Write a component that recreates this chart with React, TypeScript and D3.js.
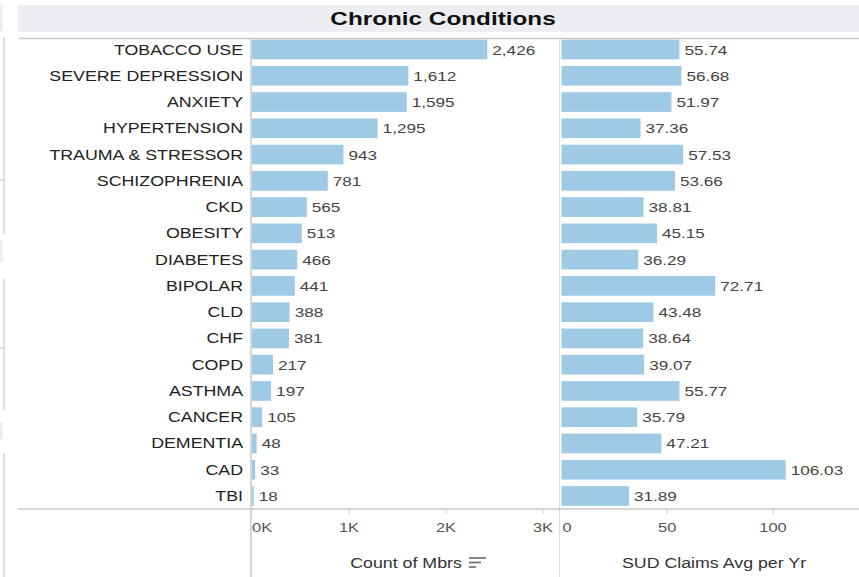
import React from "react";
import * as d3 from "d3";

const categories = [
  "TOBACCO USE", "SEVERE DEPRESSION", "ANXIETY", "HYPERTENSION", "TRAUMA & STRESSOR",
  "SCHIZOPHRENIA", "CKD", "OBESITY", "DIABETES", "BIPOLAR", "CLD", "CHF", "COPD",
  "ASTHMA", "CANCER", "DEMENTIA", "CAD", "TBI",
];
const countMbrs = [2426, 1612, 1595, 1295, 943, 781, 565, 513, 466, 441, 388, 381, 217, 197, 105, 48, 33, 18];
const sudClaims = [55.74, 56.68, 51.97, 37.36, 57.53, 53.66, 38.81, 45.15, 36.29, 72.71, 43.48, 38.64, 39.07, 55.77, 35.79, 47.21, 106.03, 31.89];
const countTicks = [0, 1000, 2000, 3000];
const sudTicks = [0, 50, 100];
const title = "Chronic Conditions";
const countTitle = "Count of Mbrs";
const sudTitle = "SUD Claims Avg per Yr";

const W = 859;
const H = 577;
const SX = 1.27;
const FONT = "'Liberation Sans', Arial, sans-serif";
const BAR = "#9ecae6";
const LINE = "#c9c9c9";

function SText(props: any) {
  const { x, y, anchor = "start", size = 13, fill = "#333", weight = "normal", sx = SX, children } = props;
  return (
    <text
      transform={`translate(${x},${y}) scale(${sx},1)`}
      textAnchor={anchor}
      fontSize={size}
      fill={fill}
      fontWeight={weight}
      fontFamily={FONT}
    >
      {children}
    </text>
  );
}

export default function App() {
  const y = d3.scaleBand<string>().domain(categories).range([36.5, 509]).paddingInner(0.25).paddingOuter(0.12);
  const xL = d3.scaleLinear().domain([0, 3000]).range([252, 543]);
  const xR = d3.scaleLinear().domain([0, 100]).range([561.5, 773]);
  const fmtC = d3.format(",");
  const fmtS = d3.format(".2f");
  const bh = y.bandwidth();

  return (
    <svg width={W} height={H} style={{ position: "absolute", left: 0, top: 0, display: "block", background: "#fff" }}>
      {/* left edge fragments of neighbouring panels */}
      <rect x={0} y={5} width={3} height={26} fill="#eceef1" />
      <line x1={4} x2={4} y1={37} y2={234} stroke={LINE} strokeWidth={1.2} />
      <line x1={0} x2={4} y1={180} y2={180} stroke={LINE} />
      <rect x={0} y={240} width={3} height={22} fill="#eceef1" />
      <line x1={4} x2={4} y1={279} y2={410} stroke={LINE} strokeWidth={1.2} />
      <line x1={0} x2={4} y1={348} y2={348} stroke={LINE} />
      <rect x={0} y={422} width={3} height={17} fill="#eceef1" />
      <line x1={4} x2={4} y1={453} y2={577} stroke={LINE} strokeWidth={1.2} />

      {/* header */}
      <rect x={18} y={5} width={W - 18} height={27} fill="#eceef1" />
      <SText x={443} y={25} anchor="middle" size={18} weight="bold" fill="#111" sx={1.35}>{title}</SText>
      <line x1={18} x2={W} y1={38.5} y2={38.5} stroke={LINE} strokeWidth={1.5} />

      {/* dividers */}
      <line x1={251} x2={251} y1={39} y2={H} stroke={LINE} strokeWidth={1.5} />
      <line x1={559.5} x2={559.5} y1={39} y2={H} stroke="#dcdcdc" strokeWidth={1} />
      <line x1={18} x2={W} y1={509} y2={509} stroke={LINE} strokeWidth={1.5} />

      {/* rows */}
      {categories.map((c, i) => {
        const yc = (y(c) as number) + bh / 2;
        return (
          <g key={c}>
            <SText x={243} y={yc + 5} anchor="end" size={14} fill="#222">{c}</SText>
            <rect x={xL(0)} y={y(c)} width={xL(countMbrs[i]) - xL(0)} height={bh} fill={BAR} />
            <SText x={xL(countMbrs[i]) + 5} y={yc + 5} size={13.5} fill="#444">{fmtC(countMbrs[i])}</SText>
            <rect x={xR(0)} y={y(c)} width={xR(sudClaims[i]) - xR(0)} height={bh} fill={BAR} />
            <SText x={xR(sudClaims[i]) + 5} y={yc + 5} size={13.5} fill="#444">{fmtS(sudClaims[i])}</SText>
          </g>
        );
      })}

      {/* left axis */}
      {countTicks.map((t, i) => (
        <g key={"c" + t}>
          {i > 0 && <line x1={xL(t)} x2={xL(t)} y1={510} y2={514} stroke={LINE} />}
          <SText x={xL(t)} y={532} anchor={i === 0 ? "start" : "middle"} size={13} fill="#555">
            {`${t / 1000}K`}
          </SText>
        </g>
      ))}
      <SText x={406} y={568} anchor="middle" size={14} fill="#333">{countTitle}</SText>
      <g stroke="#666" strokeWidth={1.6}>
        <line x1={469} x2={486} y1={558} y2={558} />
        <line x1={469} x2={481} y1={562.5} y2={562.5} />
        <line x1={469} x2={476} y1={567} y2={567} />
      </g>

      {/* right axis */}
      {sudTicks.map((t, i) => (
        <g key={"s" + t}>
          {i > 0 && <line x1={xR(t)} x2={xR(t)} y1={510} y2={514} stroke={LINE} />}
          <SText x={i === 0 ? xR(t) + 1 : xR(t)} y={532} anchor={i === 0 ? "start" : "middle"} size={13} fill="#555">
            {`${t}`}
          </SText>
        </g>
      ))}
      <SText x={714} y={568} anchor="middle" size={14} fill="#333">{sudTitle}</SText>
    </svg>
  );
}
